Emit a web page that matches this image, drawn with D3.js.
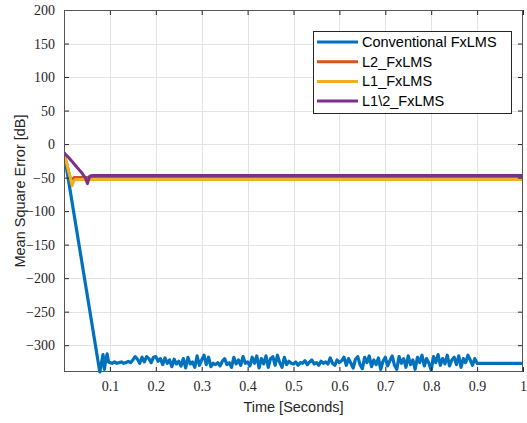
<!DOCTYPE html>
<html>
<head>
<meta charset="utf-8">
<script src="https://cdn.jsdelivr.net/npm/d3@7"></script>
<style>
  html, body { margin: 0; padding: 0; background: #fff; }
  svg { display: block; }
</style>
</head>
<body>
<svg id="chart" width="527" height="423"></svg>
<script>
// ---- data ----
const seriesNames = ["Conventional FxLMS", "L2_FxLMS", "L1_FxLMS", "L1\\2_FxLMS"];
const seriesColors = ["#0072BD", "#D95319", "#EDB120", "#7E2F8E"];

const xTicks = [0.1, 0.2, 0.3, 0.4, 0.5, 0.6, 0.7, 0.8, 0.9, 1];
const yTicks = [-300, -250, -200, -150, -100, -50, 0, 50, 100, 150, 200];

// Conventional FxLMS: initial descent and settling transient
const convTransientT = [0, 0.078, 0.082, 0.085, 0.088, 0.091, 0.094, 0.097];
const convTransientV = [-13, -340, -325, -314, -336, -322, -313, -325];

// Conventional FxLMS: steady-state MSE sampled every 5 ms from 0.100 s to 0.900 s
const convSteadyStart = 0.1;
const convSteadyStep = 0.005;
const convSteadyV = [
  -326, -327, -325, -327, -326, -325, -327, -326, -324, -326,
  -322, -317, -321, -327, -318, -325, -317, -320, -326, -318,
  -317, -324, -320, -329, -319, -327, -322, -332, -321, -328,
  -324, -331, -320, -334, -318, -328, -325, -333, -316, -330,
  -322, -315, -329, -318, -332, -327, -329, -326, -331, -324,
  -320, -329, -326, -333, -318, -328, -322, -330, -317, -327,
  -325, -331, -318, -327, -316, -334, -320, -328, -316, -333,
  -320, -317, -330, -315, -326, -333, -318, -329, -324, -327,
  -328, -325, -330, -326, -327, -323, -329, -325, -322, -328,
  -326, -330, -324, -327, -325, -328, -319, -327, -330, -322,
  -326, -323, -318, -330, -320, -327, -334, -321, -317, -329,
  -335, -318, -326, -316, -332, -322, -329, -319, -336, -324,
  -318, -331, -323, -316, -330, -336, -317, -327, -320, -333,
  -316, -329, -322, -336, -318, -326, -315, -331, -320, -327,
  -337, -317, -326, -314, -330, -320, -328, -315, -331, -322,
  -318, -329, -316, -333, -320, -326, -315, -322, -330, -320,
  -327
];
// Conventional FxLMS: final flat segment
const convTailT = [0.902, 1];
const convTailV = [-327, -327];

// L2_FxLMS
const l2T = [0, 0.017, 0.019, 0.022, 1];
const l2V = [-13, -60, -52, -50, -50];

// L1_FxLMS
const l1T = [0, 0.018, 0.021, 0.025, 1];
const l1V = [-13, -62, -55, -53, -53];

// L1\2_FxLMS
const l12T = [0, 0.01, 0.02, 0.03, 0.04, 0.047, 0.051, 0.053, 0.056, 0.06, 1];
const l12V = [-13, -20, -28, -36, -44, -51, -59, -54, -48, -47, -47];

// ---- build point lists ----
function zipPts(ts, vs) { return ts.map((t, i) => [t, vs[i]]); }
const convPts = zipPts(convTransientT, convTransientV)
  .concat(convSteadyV.map((v, i) => [convSteadyStart + i * convSteadyStep, v]))
  .concat(zipPts(convTailT, convTailV));
const allSeries = [
  convPts,
  zipPts(l2T, l2V),
  zipPts(l1T, l1V),
  zipPts(l12T, l12V)
];

// ---- layout ----
const svg = d3.select("#chart");
const plot = { left: 64, right: 523, top: 10, bottom: 372 };

const x = d3.scaleLinear().domain([0, 1]).range([plot.left, plot.right]);
const y = d3.scaleLinear().domain([-340, 200]).range([plot.bottom, plot.top]);

const axisColor = "#262626";
const tickFont = "'Liberation Serif', 'DejaVu Serif', serif";
const labelFont = "'Liberation Sans', Arial, sans-serif";

// grid
const grid = svg.append("g");
grid.selectAll(".gx").data(xTicks.filter(t => t < 1)).enter().append("line")
  .attr("x1", d => Math.round(x(d)) + 0.5).attr("x2", d => Math.round(x(d)) + 0.5)
  .attr("y1", plot.top).attr("y2", plot.bottom)
  .attr("stroke", "#e3e3e3").attr("stroke-width", 1);
grid.selectAll(".gy").data(yTicks.filter(t => t < 200)).enter().append("line")
  .attr("y1", d => Math.round(y(d)) + 0.5).attr("y2", d => Math.round(y(d)) + 0.5)
  .attr("x1", plot.left).attr("x2", plot.right)
  .attr("stroke", "#e3e3e3").attr("stroke-width", 1);

// lines
const clip = svg.append("clipPath").attr("id", "plotclip").append("rect")
  .attr("x", plot.left).attr("y", plot.top - 2)
  .attr("width", plot.right - plot.left).attr("height", plot.bottom - plot.top + 4);

const line = d3.line().x(d => x(d[0])).y(d => y(d[1])).curve(d3.curveLinear);
const lines = svg.append("g").attr("clip-path", "url(#plotclip)");
allSeries.forEach((pts, i) => {
  lines.append("path")
    .attr("d", line(pts))
    .attr("fill", "none")
    .attr("stroke", seriesColors[i])
    .attr("stroke-width", i === 0 ? 3.2 : 3)
    .attr("stroke-linejoin", "round");
});

// axes (box with inward ticks on all sides)
const xAxisB = d3.axisBottom(x).tickValues(xTicks).tickSizeInner(-5).tickSizeOuter(0)
  .tickFormat(d => d === 1 ? "1" : d3.format(".1f")(d)).tickPadding(9);
const xAxisT = d3.axisTop(x).tickValues(xTicks).tickSizeInner(-5).tickSizeOuter(0).tickFormat("");
const yAxisL = d3.axisLeft(y).tickValues(yTicks).tickSizeInner(-5).tickSizeOuter(0).tickPadding(9);
const yAxisR = d3.axisRight(y).tickValues(yTicks).tickSizeInner(-5).tickSizeOuter(0).tickFormat("");

function styleAxis(g) {
  g.select(".domain").remove();
  g.selectAll(".tick line").attr("stroke", axisColor);
  g.selectAll("text").attr("fill", axisColor)
    .style("font-family", tickFont).style("font-size", "14px");
}
svg.append("g").attr("transform", `translate(0,${plot.bottom})`).call(xAxisB).call(styleAxis);
svg.append("g").attr("transform", `translate(0,${plot.top})`).call(xAxisT).call(styleAxis);
svg.append("g").attr("transform", `translate(${plot.left},0)`).call(yAxisL).call(styleAxis);
svg.append("g").attr("transform", `translate(${plot.right},0)`).call(yAxisR).call(styleAxis);

svg.append("rect")
  .attr("x", plot.left + 0.5).attr("y", plot.top + 0.5)
  .attr("width", plot.right - plot.left - 1).attr("height", plot.bottom - plot.top - 1)
  .attr("fill", "none").attr("stroke", "#555").attr("stroke-width", 1);

// axis labels
svg.append("text")
  .attr("x", (plot.left + plot.right) / 2).attr("y", 412)
  .attr("text-anchor", "middle")
  .style("font-family", labelFont).style("font-size", "14.5px").attr("fill", axisColor)
  .text("Time [Seconds]");
svg.append("text")
  .attr("transform", `translate(25,${(plot.top + plot.bottom) / 2}) rotate(-90)`)
  .attr("text-anchor", "middle")
  .style("font-family", labelFont).style("font-size", "14.5px").attr("fill", axisColor)
  .text("Mean Square Error [dB]");

// legend
const legend = svg.append("g");
legend.append("rect")
  .attr("x", 313.5).attr("y", 31.5).attr("width", 198).attr("height", 82)
  .attr("fill", "#fff").attr("stroke", axisColor).attr("stroke-width", 1);
seriesNames.forEach((name, i) => {
  const ly = 42 + i * 19.7;
  legend.append("line")
    .attr("x1", 317).attr("x2", 358).attr("y1", ly).attr("y2", ly)
    .attr("stroke", seriesColors[i]).attr("stroke-width", 3);
  legend.append("text")
    .attr("x", 362).attr("y", ly + 5)
    .style("font-family", labelFont).style("font-size", "14.5px").attr("fill", "#000")
    .text(name);
});
</script>
</body>
</html>
